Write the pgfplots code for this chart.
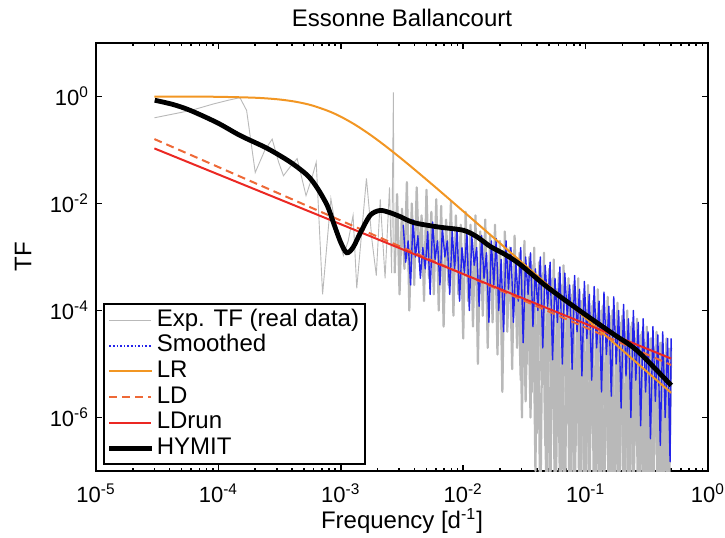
\documentclass[border=0pt]{standalone}
\usepackage{fontspec}
\setmainfont{Liberation Sans}
\usepackage{pgfplots}
\pgfplotsset{compat=1.18}
\usetikzlibrary{calc}
\definecolor{lrorange}{RGB}{242,150,35}
\definecolor{ldorange}{RGB}{238,105,55}
\definecolor{ldred}{RGB}{235,40,35}
\definecolor{expgray}{RGB}{185,185,185}
\definecolor{smblue}{RGB}{35,35,235}
\begin{document}
\begin{tikzpicture}
\begin{axis}[
  scale only axis, width=306pt, height=214pt,
  xmode=log, ymode=log,
  xmin=1e-5, xmax=1, ymin=1e-7, ymax=10,
  xtick={1e-5,1e-4,1e-3,1e-2,1e-1,1},
  xticklabels={10\textsuperscript{-5},10\textsuperscript{-4},10\textsuperscript{-3},10\textsuperscript{-2},10\textsuperscript{-1},10\textsuperscript{0}},
  ytick={1e-6,1e-4,1e-2,1},
  yticklabels={10\textsuperscript{-6},10\textsuperscript{-4},10\textsuperscript{-2},10\textsuperscript{0}},
  minor xtick={2e-5,3e-5,4e-5,5e-5,6e-5,7e-5,8e-5,9e-5,2e-4,3e-4,4e-4,5e-4,6e-4,7e-4,8e-4,9e-4,2e-3,3e-3,4e-3,5e-3,6e-3,7e-3,8e-3,9e-3,2e-2,3e-2,4e-2,5e-2,6e-2,7e-2,8e-2,9e-2,0.2,0.3,0.4,0.5,0.6,0.7,0.8,0.9},
  minor ytick={},
  axis line style={line width=1pt},
  every tick/.style={black, line width=0.8pt},
  major tick length=2.8pt, minor tick length=1.6pt,
  tick align=inside,
  ticklabel style={font=\fontsize{11}{13}\selectfont},
  xticklabel style={yshift=-3pt},
  title={Essonne Ballancourt},
  title style={at={(axis description cs:0.5,1)}, anchor=center, yshift=6.5pt, font=\fontsize{12}{14}\selectfont},
  xlabel={Frequency [d\textsuperscript{-1}]},
  ylabel={TF},
  xlabel style={at={(axis description cs:0.5,-0.117)}, anchor=center, font=\fontsize{12}{14}\selectfont},
  ylabel style={at={(axis description cs:-0.119,0.5)}, anchor=center, font=\fontsize{12}{14}\selectfont},
  legend cell align=left,
  legend image code/.code={\draw[mark repeat=2,mark phase=2,#1] plot coordinates {(0pt,0pt) (10.5pt,0pt) (21pt,0pt)};},
  legend style={at={(axis description cs:0,0)}, anchor=south west, xshift=3.5pt, yshift=3pt,
    draw=black, line width=1pt, inner sep=1.5pt, row sep=0pt,
    font=\fontsize{12}{13}\selectfont,
    nodes={inner xsep=1.5pt, inner ysep=1pt, text height=8.4pt, text depth=2.4pt}},
]
% Exp. TF (real data), low frequencies
\addplot[expgray, line width=0.45pt, forget plot] coordinates {
(3.0e-5,0.40) (6.0e-5,0.55) (9.0e-5,0.72) (1.2e-4,0.85) (1.5e-4,0.95) (1.7e-4,0.55)
(2.0e-4,0.038) (2.4e-4,0.10) (2.75e-4,0.16) (3.1e-4,0.06) (3.4e-4,0.033) (3.9e-4,0.05)
(4.4e-4,0.069) (5.2e-4,0.014) (5.8e-4,0.03) (6.3e-4,0.059) (7.1e-4,2e-4) (8.3e-4,0.0123)
(9.2e-4,0.003) (1.05e-3,1.07e-3) (1.15e-3,2e-3) (1.26e-3,0.006) (1.35e-3,2.6e-4) (1.5e-3,0.004)
(1.62e-3,0.0295) (1.8e-3,0.002) (1.95e-3,4.5e-4) (2.1e-3,0.012) (2.3e-3,4e-4) (2.5e-3,0.02)
(2.6e-3,5e-4) (2.69e-3,1.2) (2.72e-3,1e-3) (2.754e-3,5e-4)
};
% Exp. TF (real data), high frequencies
\addplot[expgray, line width=1.1pt, line join=round, forget plot] coordinates {
(2.754e-3,5e-4) (2.884e-3,1.5e-2) (3.020e-3,2e-4) (3.162e-3,8e-3) (3.311e-3,6e-4) (3.467e-3,2.5e-2)
(3.631e-3,1e-4) (3.802e-3,1e-2) (3.981e-3,3e-4) (4.169e-3,2e-2) (4.365e-3,8e-4) (4.571e-3,6e-3)
(4.786e-3,1.5e-4) (5.012e-3,1.8e-2) (5.248e-3,4e-4) (5.495e-3,7e-3) (5.754e-3,2e-4) (6.026e-3,1.2e-2)
(6.310e-3,1e-4) (6.607e-3,9e-3) (6.918e-3,5e-5) (7.244e-3,5e-3) (7.586e-3,3e-4) (7.943e-3,1.1e-2)
(8.318e-3,8e-5) (8.710e-3,6e-3) (9.120e-3,2e-4) (9.550e-3,4e-3)
(1.000e-2,3e-5) (1.047e-2,7e-3) (1.096e-2,1.5e-4) (1.148e-2,4e-3) (1.202e-2,5e-5) (1.259e-2,6e-3)
(1.318e-2,1e-5) (1.380e-2,3e-3) (1.445e-2,8e-5) (1.514e-2,5e-3) (1.585e-2,2e-5) (1.660e-2,2.5e-3)
(1.738e-2,6e-5) (1.820e-2,4e-3) (1.905e-2,1.5e-5)
(1.995e-2,2e-3) (2.089e-2,3e-6) (2.188e-2,3e-3) (2.291e-2,4e-5) (2.399e-2,1.5e-3) (2.512e-2,8e-6)
(2.630e-2,2.5e-3) (2.754e-2,2e-5) (2.884e-2,1.2e-3) (3.020e-2,1e-6) (3.162e-2,2e-3) (3.311e-2,1e-5)
(3.467e-2,1e-3) (3.631e-2,3e-6) (3.802e-2,1.5e-3)
(3.981e-2,5e-7) (4.169e-2,8e-4) (4.365e-2,5e-6) (4.571e-2,1.2e-3) (4.786e-2,1e-8) (5.012e-2,6e-4)
(5.248e-2,2e-6) (5.495e-2,9e-4) (5.754e-2,1e-7) (6.026e-2,5e-4) (6.310e-2,1e-8) (6.607e-2,7e-4)
(6.918e-2,1e-6) (7.244e-2,4e-4) (7.586e-2,1e-8)
(7.943e-2,3e-4) (8.318e-2,3e-7) (8.710e-2,4e-4) (9.120e-2,1e-8) (9.550e-2,2e-4) (0.1000,1e-8)
(0.1047,3e-4) (0.1096,5e-7) (0.1148,1.5e-4) (0.1202,1e-8) (0.1259,2.5e-4) (0.1318,1e-8)
(0.1380,1.2e-4) (0.1445,2e-7) (0.1514,1.8e-4) (0.1585,1e-8) (0.1660,1e-4) (0.1738,1e-8)
(0.1820,1.4e-4) (0.1905,1e-7)
(0.1995,8e-5) (0.2089,1e-8) (0.2188,1e-4) (0.2291,1e-8) (0.2399,6e-5) (0.2512,3e-7)
(0.2630,7e-5) (0.2754,1e-8) (0.2884,4e-5) (0.3020,1e-8) (0.3162,5e-5) (0.3311,1e-8)
(0.3467,3e-5) (0.3631,2e-7) (0.3802,4e-5) (0.3981,1e-8) (0.4169,2.5e-5) (0.4365,1e-8)
(0.4571,3e-5) (0.4786,1e-8) (0.5,2e-5)
};
% Exp. TF (real data), further high-frequency values
\addplot[expgray, line width=1.1pt, line join=round, forget plot] coordinates {
(2.818e-2,3e-4) (2.951e-2,5e-6) (3.090e-2,6e-4) (3.236e-2,2e-6) (3.388e-2,4e-4) (3.548e-2,1e-6) (3.715e-2,7e-4) (3.890e-2,1e-7)
(4.074e-2,3e-4) (4.266e-2,1e-8) (4.467e-2,5e-4) (4.677e-2,3e-7) (4.898e-2,2e-4) (5.129e-2,1e-8) (5.370e-2,4e-4) (5.623e-2,1e-8)
(5.888e-2,2.5e-4) (6.166e-2,5e-8) (6.457e-2,3e-4) (6.761e-2,1e-8) (7.079e-2,1.5e-4) (7.413e-2,1e-8) (7.762e-2,2e-4) (8.128e-2,1e-8)
(8.511e-2,1.2e-4) (8.913e-2,1e-8) (9.333e-2,1.5e-4) (9.772e-2,1e-8) (0.1023,1e-4) (0.1072,1e-8) (0.1122,1.2e-4) (0.1175,1e-8)
(0.1230,8e-5) (0.1288,1e-8) (0.1349,1e-4) (0.1413,1e-8) (0.1479,6e-5) (0.1549,1e-8) (0.1622,8e-5) (0.1698,1e-8)
(0.1778,5e-5) (0.1862,1e-8) (0.1950,6e-5) (0.2042,1e-8) (0.2138,4e-5) (0.2239,1e-8) (0.2344,5e-5) (0.2455,1e-8)
(0.2570,3e-5) (0.2692,1e-8) (0.2818,3.5e-5) (0.2951,1e-8) (0.3090,2.5e-5) (0.3236,1e-8) (0.3388,3e-5) (0.3548,1e-8)
(0.3715,2e-5) (0.3890,1e-8) (0.4074,2.5e-5) (0.4266,1e-8) (0.4467,1.5e-5) (0.4677,1e-8) (0.4898,2e-5)
};
% Smoothed
\addplot[smblue, line width=0.7pt, line join=round, forget plot] coordinates {
(3.236e-3,4e-3) (3.388e-3,8e-4) (3.548e-3,2e-3) (3.715e-3,3e-4) (3.890e-3,5e-3) (4.074e-3,1e-3)
(4.266e-3,2.5e-3) (4.467e-3,4e-4) (4.677e-3,1.5e-3) (4.898e-3,6e-4) (5.129e-3,3e-3) (5.370e-3,2e-4)
(5.623e-3,4.5e-3) (5.888e-3,9e-4) (6.166e-3,2e-3) (6.457e-3,3e-4) (6.761e-3,3.5e-3) (7.079e-3,1e-3)
(7.413e-3,2e-3) (7.762e-3,2e-4) (8.128e-3,3e-3) (8.511e-3,6e-4) (8.913e-3,3.5e-3) (9.333e-3,1.5e-4)
(9.772e-3,1.5e-3) (1.023e-2,5e-4) (1.072e-2,3e-3) (1.122e-2,1e-4) (1.175e-2,2.5e-3) (1.230e-2,7e-4)
(1.288e-2,1.5e-3) (1.349e-2,1.2e-4) (1.413e-2,2.5e-3) (1.479e-2,4e-4) (1.549e-2,1.2e-3) (1.622e-2,6e-5)
(1.698e-2,2e-3) (1.778e-2,3e-4) (1.862e-2,2.2e-3) (1.950e-2,1e-4) (2.042e-2,9e-4) (2.138e-2,4e-5)
(2.239e-2,2e-3) (2.344e-2,2.5e-4) (2.455e-2,1.5e-3) (2.570e-2,6e-5) (2.692e-2,8e-4) (2.818e-2,1.5e-4)
(2.951e-2,1.5e-3) (3.090e-2,2.5e-5) (3.236e-2,1e-3) (3.388e-2,2e-4) (3.548e-2,1.2e-3) (3.715e-2,5e-5)
(3.890e-2,6e-4) (4.074e-2,1e-4) (4.266e-2,1e-3) (4.467e-2,2e-5) (4.677e-2,7e-4) (4.898e-2,1.2e-4)
(5.129e-2,8e-4) (5.370e-2,1.2e-5) (5.623e-2,4e-4) (5.888e-2,6e-5) (6.166e-2,6.5e-4) (6.457e-2,1e-5)
(6.761e-2,5e-4) (7.079e-2,8e-5) (7.413e-2,3e-4) (7.762e-2,8e-6) (8.128e-2,4.5e-4) (8.511e-2,4e-5)
(8.913e-2,2.5e-4) (9.333e-2,6e-6) (9.772e-2,3.5e-4) (0.1023,3e-5) (0.1072,2e-4) (0.1122,5e-6)
(0.1175,2.8e-4) (0.1230,2e-5) (0.1288,1.5e-4) (0.1349,3e-6) (0.1413,2.2e-4) (0.1479,1.5e-5)
(0.1549,1.2e-4) (0.1622,2.5e-6) (0.1698,1.8e-4) (0.1778,1e-5) (0.1862,1e-4) (0.1950,1.5e-6)
(0.2042,1.3e-4) (0.2138,6e-6) (0.2239,7e-5) (0.2344,1e-6) (0.2455,1e-4) (0.2570,5e-6)
(0.2692,6e-5) (0.2818,7e-7) (0.2951,7e-5) (0.3090,3e-6) (0.3236,4e-5) (0.3388,4e-7)
(0.3548,5e-5) (0.3715,2e-6) (0.3890,3.5e-5) (0.4074,3e-7) (0.4266,4e-5) (0.4467,1e-6)
(0.4677,3e-5) (0.4898,1.5e-7) (0.5,3e-5)
};
\addlegendimage{expgray, line width=0.5pt}
\addlegendentry{Exp. TF (real data)}
\addlegendimage{smblue, line width=0.8pt, densely dotted}
\addlegendentry{Smoothed}
% LR
\addplot[lrorange, line width=1pt, smooth] coordinates {
(3e-5,0.9988) (5e-5,0.9966) (1e-4,0.9863) (2e-4,0.9475) (3e-4,0.8892) (4e-4,0.8187)
(5e-4,0.743) (6e-4,0.6675) (8e-4,0.530) (1e-3,0.4195) (1.3e-3,0.2995) (1.7e-3,0.200)
(2.2e-3,0.1299) (3e-3,0.0743) (4e-3,0.0432) (6e-3,0.0197) (1e-2,0.00717) (2e-2,0.001803)
(5e-2,2.89e-4) (0.1,7.22e-5) (0.2,1.806e-5) (0.5,2.89e-6)
};
\addlegendentry{LR}
% LD
\addplot[ldorange, line width=1pt, dash pattern=on 4pt off 2.5pt] coordinates {
(3e-5,0.16) (0.5,9.6e-6)
};
\addlegendentry{LD}
% LDrun
\addplot[ldred, line width=1pt] coordinates {
(3e-5,0.107) (0.5,1.26e-5)
};
\addlegendentry{LDrun}
% HYMIT
\addplot[black, line width=2.4pt, smooth] coordinates {
(3.02e-5,0.851) (4.27e-5,0.708) (5.89e-5,0.550) (9.77e-5,0.324) (1.51e-4,0.186) (2.51e-4,0.107)
(3.89e-4,0.0589) (5.37e-4,0.0331) (6.46e-4,0.0191) (7.76e-4,0.00912) (8.71e-4,0.00437) (1.0e-3,0.00186)
(1.12e-3,0.00120) (1.26e-3,0.00151) (1.45e-3,0.00288) (1.74e-3,0.00603) (2.09e-3,0.00741) (2.51e-3,0.00676)
(3.02e-3,0.00575) (3.98e-3,0.00437) (6.31e-3,0.00363) (1.0e-2,0.00316) (1.29e-2,0.00240) (1.66e-2,0.00158)
(2.19e-2,0.00112) (2.88e-2,7.41e-4) (4.79e-2,2.82e-4) (8.91e-2,1.0e-4) (0.166,3.72e-5) (0.263,1.78e-5)
(0.501,3.98e-6)
};
\addlegendentry{HYMIT}
\end{axis}
\pgfresetboundingbox
\path ($(current axis.south west)+(-48pt,-33.5pt)$) rectangle ($(current axis.north east)+(8.5pt,21.5pt)$);
\end{tikzpicture}
\end{document}
